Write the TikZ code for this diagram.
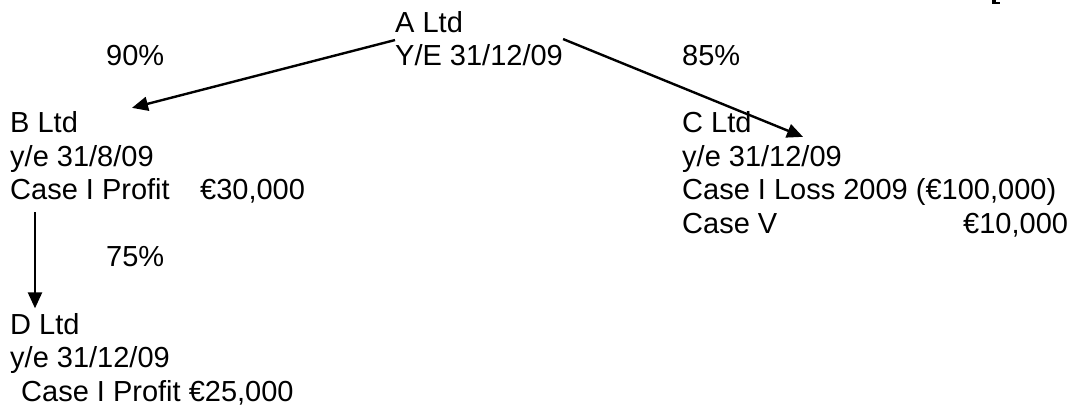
\documentclass[tikz,border=0pt]{standalone}
\usepackage{fontspec}
\setmainfont{Liberation Sans}
\usetikzlibrary{arrows.meta}
\tikzset{
  txt/.style={anchor=base west, inner sep=0pt, font=\fontsize{29pt}{33.5pt}\selectfont},
  link/.style={line width=2.4pt, -{Triangle[length=16pt,width=14pt]}},
}
\begin{document}
\begin{tikzpicture}[x=1pt,y=-1pt]
\useasboundingbox (0,0) rectangle (1083,410);
% companies
\node[txt] (A) at (395,32) {\begin{tabular}[t]{@{}l@{}}A Ltd\\Y/E 31/12/09\end{tabular}};
\node[txt] (B) at (10,132.5) {\begin{tabular}[t]{@{}l@{}}B Ltd\\y/e 31/8/09\\\makebox[190pt][l]{Case I Profit}€30,000\end{tabular}};
\node[txt] (C) at (682,132.5) {\begin{tabular}[t]{@{}l@{}}C Ltd\\y/e 31/12/09\\Case I Loss 2009 (€100,000)\\\makebox[281pt][l]{Case V}€10,000\end{tabular}};
\node[txt] (D) at (10,334) {\begin{tabular}[t]{@{}l@{}}D Ltd\\y/e 31/12/09\\\hspace*{11pt}Case I Profit €25,000\end{tabular}};
% percentages
\node[txt] (p90) at (106,65.5) {90\%};
\node[txt] (p85) at (682,65.5) {85\%};
\node[txt] (p75) at (106,266.5) {75\%};
% connectors
\draw[link] ([yshift=2pt]A.west) -- ([xshift=122pt,yshift=1pt]B.north west);
\draw[link] ([yshift=3pt]A.east) -- ([xshift=121pt,yshift=-28pt]C.north west);
\draw[link] ([xshift=25pt,yshift=-2.5pt]B.south west) -- ([xshift=25pt,yshift=2pt]D.north west);
% clipped mark at top right
\fill (992,0) rectangle (995.5,3.5);
\fill (992,1.7) rectangle (999.5,3.5);
\end{tikzpicture}
\end{document}
